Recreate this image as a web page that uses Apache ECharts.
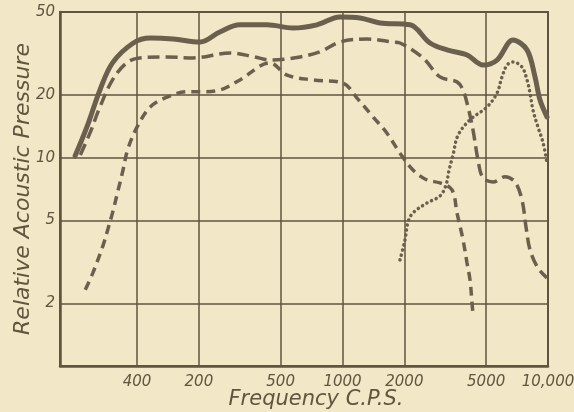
<!DOCTYPE html>
<html>
<head>
<meta charset="utf-8">
<script src="https://cdn.jsdelivr.net/npm/echarts/dist/echarts.min.js"></script>
<style>
  html, body { margin: 0; padding: 0; background: #f2e7c6; }
  #chart { width: 574px; height: 412px; }
</style>
</head>
<body>
<div id="chart"></div>
<script>
// tick values and their printed labels (the "400" is how the plate prints 100)
const freqTicks = [100, 200, 500, 1000, 2000, 5000, 10000];
const freqLabels = ['400', '200', '500', '1000', '2000', '5000', '10,000'];
const pressTicks = [2, 5, 10, 20, 50];
const pressLabels = ['2', '5', '10', '20', '50'];

// [frequency c.p.s., relative pressure]
const solidCurve = [
  [50, 10.2], [57, 14.0], [66, 21.1], [76, 28.5], [96, 35.5], [116, 37.5],
  [150, 37.1], [203, 35.9], [253, 40.1], [317, 43.4], [429, 43.4], [574, 41.9],
  [751, 43.4], [972, 47.3], [1217, 46.8], [1522, 44.3], [2131, 43.4], [2666, 35.5],
  [3225, 32.9], [4036, 31.1], [4827, 27.8], [5647, 29.4], [6756, 36.7], [7904, 32.9],
  [8645, 24.4], [9145, 18.9], [9888, 15.7]
];
const longDashCurve = [
  [53, 10.3], [59, 13.1], [66, 17.5], [76, 23.6], [89, 28.5], [103, 30.1],
  [140, 30.4], [187, 30.1], [284, 31.8], [375, 30.4], [444, 29.4], [525, 29.7],
  [621, 30.4], [777, 32.2], [972, 35.9], [1316, 37.1], [1761, 35.9], [1905, 35.5],
  [2465, 30.1], [2983, 24.4], [3607, 23.1], [3859, 21.1], [4081, 17.5], [4315, 13.6],
  [4564, 9.75], [4827, 8.0], [5400, 7.64], [6178, 8.1], [6910, 7.64], [7472, 6.27],
  [7816, 4.65], [8174, 3.61], [8941, 2.95], [9888, 2.65]
];
const shortDashCurve = [
  [56, 2.32], [61, 2.8], [68, 3.73], [72, 4.5], [76, 5.43], [81, 7.0],
  [85.5, 8.72], [90, 10.9], [100, 14.0], [116, 17.5], [140, 19.5], [175, 20.7],
  [203, 20.7], [253, 21.1], [317, 23.6], [444, 28.5], [537, 24.9], [719, 23.6],
  [1006, 22.8], [1177, 19.3], [1408, 15.7], [1646, 13.1], [1905, 10.5], [2203, 8.72],
  [2577, 7.81], [2983, 7.56], [3411, 7.0], [3607, 5.43], [3859, 4.03], [4036, 3.12],
  [4173, 2.59], [4268, 2.01], [4315, 1.76]
];
const dottedCurve = [
  [1905, 3.23], [2014, 4.03], [2084, 4.91], [2203, 5.43], [2577, 6.06], [2983, 6.55],
  [3190, 7.4], [3300, 8.7], [3450, 10.3], [3648, 12.8], [4173, 15.2], [5047, 17.5],
  [5647, 20.4], [5973, 24.4], [6318, 27.8], [6756, 28.8], [7472, 27.2], [7904, 23.6],
  [8174, 20.4], [8453, 16.9], [8941, 14.0], [9456, 11.8], [9888, 9.43]
];

const ink = '#62553f';
const lineInk = '#6b604e';

function pick(ticks, labels, v) {
  let best = 0;
  for (let i = 1; i < ticks.length; i++) {
    if (Math.abs(Math.log(ticks[i] / v)) < Math.abs(Math.log(ticks[best] / v))) best = i;
  }
  return labels[best];
}

let chartDom = document.getElementById('chart');
let myChart = echarts.init(chartDom);
let option;

option = {
  backgroundColor: '#f2e7c6',
  animation: false,
  grid: {
    left: 60, right: 26, top: 12, bottom: 46,
    outerBoundsMode: 'none',
    show: true,
    borderColor: ink,
    borderWidth: 2,
    backgroundColor: 'transparent'
  },
  xAxis: {
    type: 'log',
    logBase: 10,
    min: 42.2,
    max: 10000,
    name: 'Frequency C.P.S.',
    nameLocation: 'middle',
    nameGap: 23,
    nameMoveOverlap: false,
    nameTextStyle: {
      color: ink, fontFamily: 'DejaVu Sans', fontStyle: 'italic', fontSize: 21,
      padding: [0, 0, 0, 24]
    },
    axisLine: { show: true, lineStyle: { color: ink, width: 2.5 } },
    axisTick: { show: false, customValues: freqTicks },
    axisLabel: {
      customValues: freqTicks,
      color: ink, fontFamily: 'DejaVu Sans', fontStyle: 'italic', fontSize: 15,
      margin: 9,
      formatter: function (v) { return pick(freqTicks, freqLabels, v); }
    },
    splitLine: { show: true, lineStyle: { color: ink, width: 1.5 } },
    minorSplitLine: { show: false }
  },
  yAxis: {
    type: 'log',
    logBase: 10,
    min: 1,
    max: 50,
    name: 'Relative Acoustic Pressure',
    nameLocation: 'middle',
    nameRotate: 90,
    nameGap: 26,
    nameMoveOverlap: false,
    nameTextStyle: {
      color: ink, fontFamily: 'DejaVu Sans', fontStyle: 'italic', fontSize: 22
    },
    axisLine: { show: true, lineStyle: { color: ink, width: 2.5 } },
    axisTick: { show: false, customValues: pressTicks },
    axisLabel: {
      customValues: pressTicks,
      color: ink, fontFamily: 'DejaVu Sans', fontStyle: 'italic', fontSize: 15,
      margin: 5,
      padding: [0, 0, 8, 0],
      formatter: function (v) { return pick(pressTicks, pressLabels, v); }
    },
    splitLine: { show: true, lineStyle: { color: ink, width: 1.5 } }
  },
  series: [
    {
      type: 'line', data: solidCurve, smooth: 0.35, showSymbol: false,
      lineStyle: { color: lineInk, width: 5, cap: 'round' }
    },
    {
      type: 'line', data: longDashCurve, smooth: 0.35, showSymbol: false,
      lineStyle: { color: lineInk, width: 3.5, type: [12, 6] }
    },
    {
      type: 'line', data: shortDashCurve, smooth: 0.35, showSymbol: false,
      lineStyle: { color: lineInk, width: 3.5, type: [9, 6] }
    },
    {
      type: 'line', data: dottedCurve, smooth: 0.35, showSymbol: false,
      lineStyle: { color: lineInk, width: 3.5, type: [0.1, 5], cap: 'round' }
    }
  ]
};
myChart.setOption(option);
</script>
</body>
</html>
